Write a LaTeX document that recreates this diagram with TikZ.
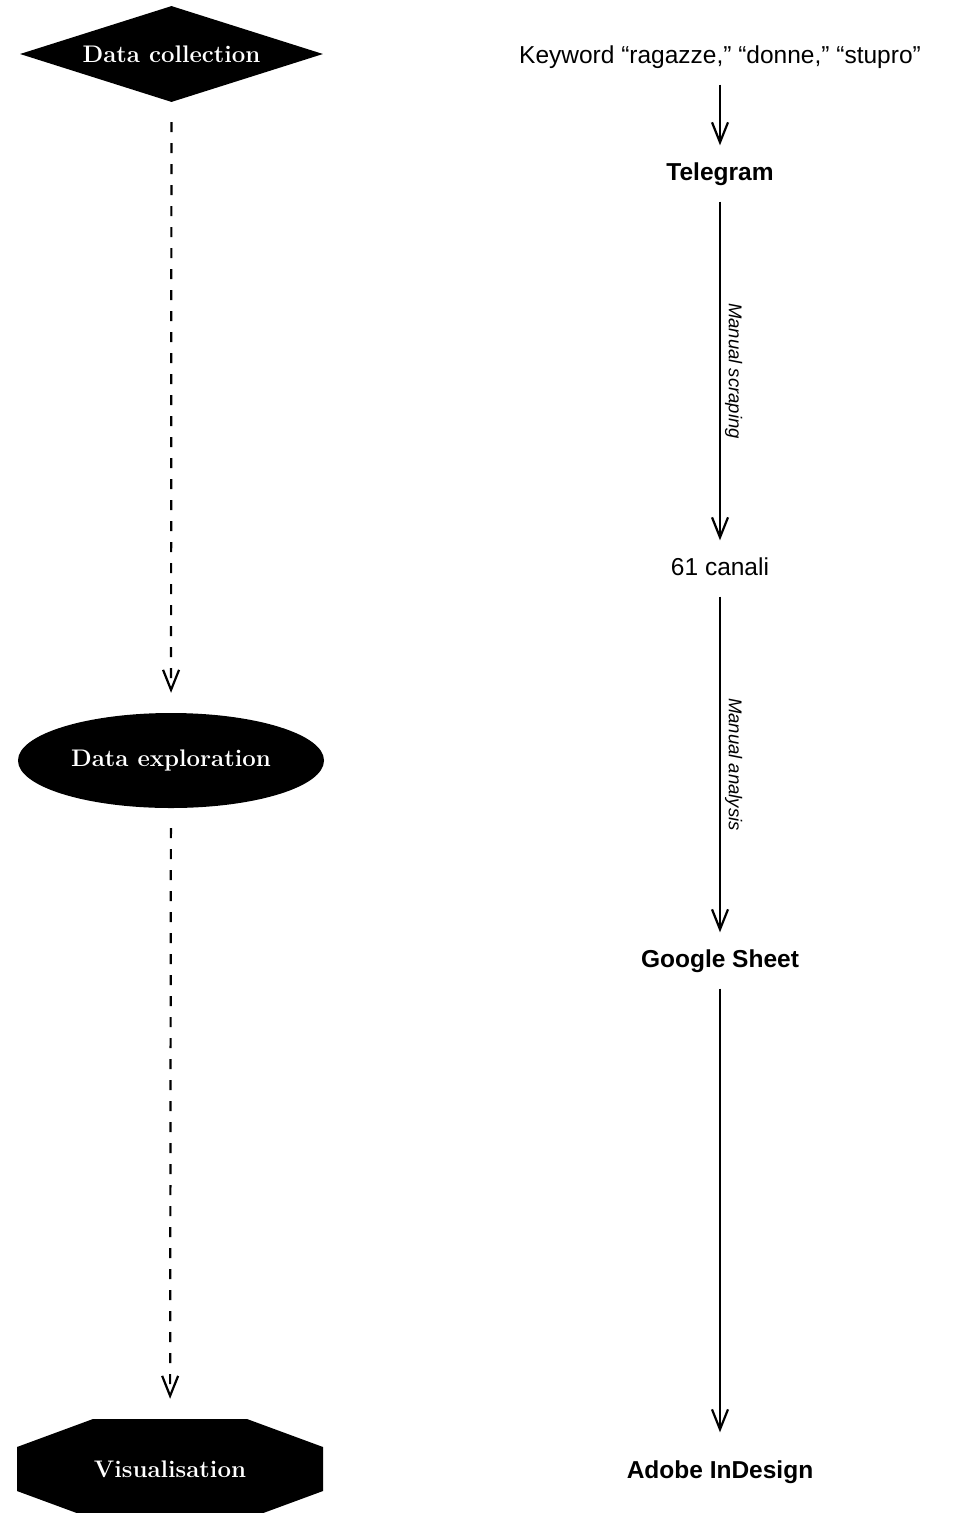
\documentclass[tikz,border=0pt]{standalone}
\usepackage{fontspec}
\setsansfont{Liberation Sans}
\usetikzlibrary{shapes.geometric,arrows.meta}

\begin{document}
\begin{tikzpicture}[
  x=1pt,y=-1pt,
  >={Straight Barb[length=20pt,width=16pt]},
  stage/.style={text=white,inner sep=0pt,
    font=\fontsize{24}{28}\selectfont\bfseries},
  octagon/.style={minimum width=306pt,minimum height=100pt,
    path picture={\fill ([xshift=76pt]path picture bounding box.north west)
      -- ([xshift=-76pt]path picture bounding box.north east)
      -- ([yshift=-28pt]path picture bounding box.north east)
      -- ([yshift=28pt]path picture bounding box.south east)
      -- ([xshift=-76pt]path picture bounding box.south east)
      -- ([xshift=76pt]path picture bounding box.south west)
      -- ([yshift=28pt]path picture bounding box.south west)
      -- ([yshift=-28pt]path picture bounding box.north west) -- cycle;}},
  item/.style={inner sep=0pt,minimum height=56pt,text height=18pt,text depth=5pt,
    font=\fontsize{24.5}{29}\selectfont\sffamily},
  bold item/.style={item,font=\fontsize{24.5}{29}\selectfont\sffamily\bfseries},
  step label/.style={midway,rotate=-90,anchor=south,inner sep=4pt,
    font=\fontsize{18.5}{22}\selectfont\sffamily\itshape},
  flow/.style={->,line width=2.2pt},
  phase/.style={->,line width=2.2pt,dash pattern=on 10pt off 11pt,
    shorten <=20pt,shorten >=20pt}
]
  \useasboundingbox (0,0) rectangle (964,1513);

  % left column
  \node[stage,fill=black,diamond,aspect=3.2,minimum width=303pt,minimum height=96pt] (collection) at (171.5,54) {Data collection};
  \node[stage,fill=black,ellipse,minimum width=306pt,minimum height=95pt] (exploration) at (171,760.5) {Data exploration};
  \node[stage,octagon] (visual) at (170,1469) {Visualisation};

  \draw[phase] (collection) -- (exploration);
  \draw[phase] (exploration) -- (visual);

  % right column
  \node[item] (keyword) at (720,56.5) {Keyword “ragazze,” “donne,” “stupro”};
  \node[bold item] (telegram) at (720,173.5) {Telegram};
  \node[item] (canali) at (720,568.5) {61 canali};
  \node[bold item] (sheet) at (720,960.5) {Google Sheet};
  \node[bold item] (indesign) at (720,1471.5) {Adobe InDesign};

  \draw[flow] (keyword) -- (telegram);
  \draw[flow] (telegram) -- node[step label]{Manual scraping} (canali);
  \draw[flow] (canali) -- node[step label]{Manual analysis} (sheet);
  \draw[flow,shorten >=11pt] (sheet) -- (indesign);
\end{tikzpicture}
\end{document}
